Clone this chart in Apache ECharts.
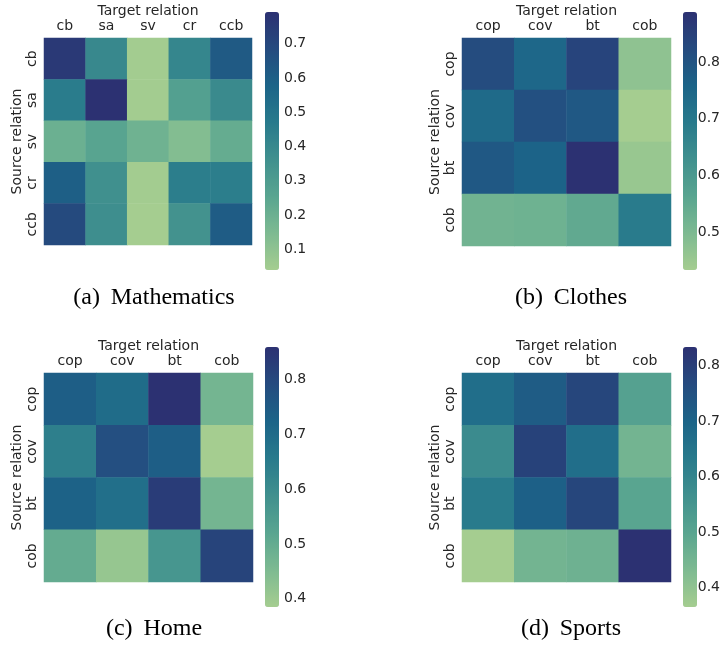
<!DOCTYPE html>
<html><head><meta charset="utf-8">
<script src="https://cdn.jsdelivr.net/npm/echarts@6/dist/echarts.min.js"></script>
<style>html,body{margin:0;padding:0;background:#fff}#c{width:723px;height:645px}</style>
</head><body><div id="c"></div>
<script>
const mathCats = ['cb','sa','sv','cr','ccb'];
const prodCats = ['cop','cov','bt','cob'];

const mathValues = [
  [0.76, 0.40, 0.045, 0.41, 0.62],
  [0.46, 0.793, 0.045, 0.28, 0.39],
  [0.20, 0.26, 0.19, 0.13, 0.22],
  [0.60, 0.36, 0.045, 0.45, 0.45],
  [0.69, 0.37, 0.039, 0.35, 0.61]
];
const clothesValues = [
  [0.82, 0.75, 0.84, 0.47],
  [0.74, 0.81, 0.79, 0.434],
  [0.79, 0.76, 0.888, 0.455],
  [0.52, 0.525, 0.55, 0.69]
];
const homeValues = [
  [0.74, 0.70, 0.859, 0.47],
  [0.64, 0.78, 0.74, 0.385],
  [0.73, 0.69, 0.83, 0.47],
  [0.50, 0.41, 0.57, 0.81]
];
const sportsValues = [
  [0.67, 0.72, 0.78, 0.51],
  [0.58, 0.79, 0.67, 0.45],
  [0.63, 0.71, 0.78, 0.50],
  [0.365, 0.45, 0.46, 0.833]
];

const mathRange = [0.039, 0.793];
const clothesRange = [0.434, 0.888];
const homeRange = [0.385, 0.859];
const sportsRange = [0.365, 0.833];

const mathTicks = [0.1, 0.2, 0.3, 0.4, 0.5, 0.6, 0.7];
const clothesTicks = [0.5, 0.6, 0.7, 0.8];
const homeTicks = [0.4, 0.5, 0.6, 0.7, 0.8];
const sportsTicks = [0.4, 0.5, 0.6, 0.7, 0.8];

const captions = ['(a) \u2009Mathematics', '(b) \u2009Clothes', '(c) \u2009Home', '(d) \u2009Sports'];
const xName = 'Target relation';
const yName = 'Source relation';

const crest = ['#a5cd90','#7dba91','#59a590','#40908e','#287a8c','#1c6488','#254b7f','#2c3172'];
const txt = '#262626';
const font = 'DejaVu Sans';
const fs = 14;

const panels = [
  {cats: mathCats, vals: mathValues, range: mathRange, ticks: mathTicks,
   grid: {left: 44, top: 38, width: 208, height: 207}, bar: {left: 265, top: 12, h: 258}, cap: [154, 298]},
  {cats: prodCats, vals: clothesValues, range: clothesRange, ticks: clothesTicks,
   grid: {left: 462, top: 38, width: 209, height: 208}, bar: {left: 683, top: 12, h: 258}, cap: [571, 298]},
  {cats: prodCats, vals: homeValues, range: homeRange, ticks: homeTicks,
   grid: {left: 44, top: 373, width: 209, height: 209}, bar: {left: 265, top: 347, h: 260}, cap: [154, 629]},
  {cats: prodCats, vals: sportsValues, range: sportsRange, ticks: sportsTicks,
   grid: {left: 462, top: 373, width: 209, height: 209}, bar: {left: 683, top: 347, h: 260}, cap: [571, 629]}
];

const grid = [], xAxis = [], yAxis = [], series = [], visualMap = [], graphic = [];
panels.forEach((p, i) => {
  grid.push(p.grid);
  xAxis.push({
    type: 'category', gridIndex: grid.length - 1, data: p.cats, position: 'top',
    name: xName, nameLocation: 'middle', nameGap: 20,
    nameTextStyle: {fontFamily: font, fontSize: fs, color: txt},
    axisLine: {show: false},
    axisTick: {alignWithLabel: true, length: 4, lineStyle: {color: txt}},
    axisLabel: {fontFamily: font, fontSize: fs, color: txt, margin: 5},
    splitLine: {show: false}
  });
  yAxis.push({
    type: 'category', gridIndex: grid.length - 1, data: p.cats, inverse: true,
    name: yName, nameLocation: 'middle', nameGap: 20, nameRotate: 90,
    nameTextStyle: {fontFamily: font, fontSize: fs, color: txt},
    axisLine: {show: false},
    axisTick: {alignWithLabel: true, length: 4, lineStyle: {color: txt}},
    axisLabel: {fontFamily: font, fontSize: fs, color: txt, margin: 5, rotate: 90},
    splitLine: {show: false}
  });
  const data = [];
  p.vals.forEach((row, r) => row.forEach((v, c) => data.push([c, r, v])));
  series.push({
    type: 'heatmap', xAxisIndex: xAxis.length - 1, yAxisIndex: yAxis.length - 1,
    data: data, itemStyle: {borderWidth: 0}, emphasis: {disabled: true}
  });
  const sIdx = series.length - 1;
  visualMap.push({
    type: 'continuous', seriesIndex: sIdx, min: p.range[0], max: p.range[1],
    calculable: false, orient: 'vertical', left: p.bar.left, top: p.bar.top,
    itemWidth: 14, itemHeight: p.bar.h, padding: 0, text: null, showLabel: false,
    inRange: {color: crest}, hoverLink: false
  });
  grid.push({left: p.bar.left, top: p.bar.top, width: 14, height: p.bar.h});
  xAxis.push({type: 'value', gridIndex: grid.length - 1, show: false, min: 0, max: 1});
  yAxis.push({
    type: 'value', gridIndex: grid.length - 1, position: 'right',
    min: p.range[0], max: p.range[1],
    axisLine: {show: false},
    axisTick: {show: true, length: 4, customValues: p.ticks, lineStyle: {color: txt}},
    axisLabel: {show: true, customValues: p.ticks, fontFamily: font, fontSize: fs, color: txt, margin: 5,
      formatter: v => Number(v).toFixed(1)},
    splitLine: {show: false}
  });
  graphic.push({
    type: 'text', x: p.cap[0], y: p.cap[1],
    style: {text: captions[i], font: '24px "Liberation Serif"', fill: '#000', align: 'center', verticalAlign: 'middle'}
  });
});

const chart = echarts.init(document.getElementById('c'), null, {renderer: 'canvas'});
chart.setOption({
  animation: false, backgroundColor: '#fff',
  grid, xAxis, yAxis, series, visualMap, graphic
});
</script></body></html>
